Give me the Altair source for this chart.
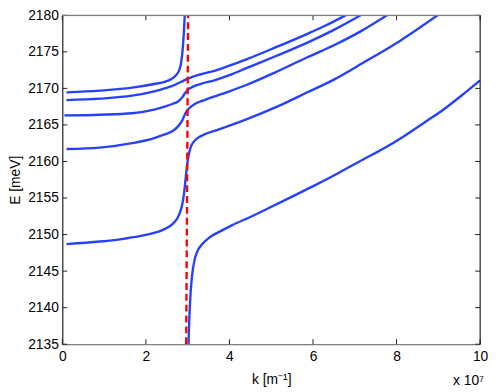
import altair as alt
import pandas as pd

# ---- data (k in units of 1e7 m^-1, E in meV) ----
k0 = [3.02, 3.04, 3.07, 3.11, 3.16, 3.24, 3.35, 3.52, 3.8, 4.07, 4.5, 4.93, 5.5, 6.03, 6.6, 7.21, 7.7, 8.16, 8.71, 9.1, 9.55, 10.0]
E0 = [2135.0, 2138.5, 2142.0, 2144.6, 2146.4, 2147.8, 2148.7, 2149.6, 2150.5, 2151.3, 2152.4, 2153.6, 2155.2, 2156.7, 2158.4, 2160.3, 2161.8, 2163.4, 2165.5, 2167.0, 2169.0, 2171.1]

k1 = [0.1, 0.9, 1.5, 2.0, 2.3, 2.5, 2.65, 2.75, 2.82, 2.87, 2.91, 2.94, 2.97, 3.0, 3.04, 3.09, 3.16, 3.26, 3.4, 3.7, 4.0, 4.42, 5.1, 5.88, 6.5, 7.2, 8.08, 8.98]
E1 = [2148.7, 2149.05, 2149.45, 2149.95, 2150.4, 2150.9, 2151.5, 2152.2, 2153.1, 2154.1, 2155.5, 2157.0, 2158.7, 2160.1, 2161.3, 2162.2, 2162.8, 2163.3, 2163.7, 2164.3, 2164.9, 2165.8, 2167.4, 2169.5, 2171.2, 2173.5, 2176.5, 2180.0]

k2 = [0.1, 0.9, 1.67, 2.2, 2.45, 2.65, 2.77, 2.87, 2.93, 2.99, 3.04, 3.15, 3.4, 3.8, 4.42, 5.1, 5.88, 6.5, 7.14, 7.77]
E2 = [2161.7, 2161.9, 2162.5, 2163.2, 2163.7, 2164.2, 2164.8, 2165.6, 2166.4, 2167.0, 2167.3, 2167.8, 2168.4, 2169.2, 2170.5, 2172.2, 2174.3, 2175.9, 2177.8, 2180.0]

k3 = [0.05, 0.9, 1.67, 2.2, 2.45, 2.65, 2.77, 2.86, 2.93, 3.0, 3.08, 3.3, 3.64, 4.0, 4.42, 5.1, 5.88, 6.5, 7.14]
E3 = [2166.3, 2166.4, 2166.6, 2167.1, 2167.5, 2167.9, 2168.2, 2168.7, 2169.3, 2169.8, 2170.1, 2170.6, 2171.1, 2171.8, 2172.8, 2174.4, 2176.3, 2178.0, 2180.0]

k4 = [0.1, 0.9, 1.67, 2.2, 2.45, 2.7, 2.85, 2.95, 3.08, 3.3, 3.64, 4.0, 4.42, 5.1, 5.88, 6.3, 6.78]
E4 = [2168.4, 2168.6, 2169.0, 2169.6, 2170.0, 2170.5, 2170.9, 2171.2, 2171.5, 2171.9, 2172.4, 2173.1, 2174.0, 2175.6, 2177.5, 2178.6, 2180.0]

k5 = [0.1, 0.9, 1.67, 2.2, 2.45, 2.61, 2.72, 2.79, 2.84, 2.88, 2.91, 2.93]
E5 = [2169.45, 2169.7, 2170.1, 2170.6, 2170.9, 2171.3, 2171.8, 2172.4, 2173.4, 2175.3, 2177.8, 2180.0]

k_photon = [2.965, 3.01]
E_photon = [2135.0, 2180.0]

x_ticks = [0, 2, 4, 6, 8, 10]
y_ticks = [2135, 2140, 2145, 2150, 2155, 2160, 2165, 2170, 2175, 2180]

# ---- tables ----
rows = []
for i, (ks, es) in enumerate([(k0, E0), (k1, E1), (k2, E2), (k3, E3), (k4, E4), (k5, E5)]):
    for j, (k, e) in enumerate(zip(ks, es)):
        rows.append({"k": k, "E": e, "branch": i, "order": j})
df_pol = pd.DataFrame(rows)
df_ph = pd.DataFrame({"k": k_photon, "E": E_photon})
df_xt = pd.DataFrame({"k": x_ticks})
df_yt = pd.DataFrame({"E": y_ticks})

W, H = 423, 333
FONT = "Liberation Sans"

xscale = alt.Scale(domain=[0, 10], nice=False, zero=False)
yscale = alt.Scale(domain=[2135, 2180], nice=False, zero=False)

blue = alt.Chart(df_pol).mark_line(
    color="#2541ff", strokeWidth=2.4, interpolate="monotone", clip=True
).encode(
    x=alt.X("k:Q", scale=xscale, axis=alt.Axis(
        values=x_ticks, format="d", title="k [m⁻¹]", ticks=False, labelFlush=False,
        labelOverlap=False, domainColor="#808080", domainWidth=1.2,
        labelPadding=5, titlePadding=10, labelFontSize=14, titleFontSize=14,
        labelFont=FONT, titleFont=FONT, labelColor="black", titleColor="black",
        titleFontWeight="normal", grid=False)),
    y=alt.Y("E:Q", scale=yscale, axis=alt.Axis(
        values=y_ticks, format="d", title="E [meV]", ticks=False, labelOverlap=False,
        domainColor="black", domainWidth=1, labelPadding=4, titlePadding=5,
        labelFontSize=14, titleFontSize=14, labelFont=FONT, titleFont=FONT,
        labelColor="black", titleColor="black", titleFontWeight="normal",
        grid=False)),
    detail="branch:N",
    order="order:Q",
)

red = alt.Chart(df_ph).mark_line(
    color="#ff0000", strokeWidth=2.4, strokeDash=[7, 4], clip=True
).encode(
    x=alt.X("k:Q", scale=xscale, axis=None),
    y=alt.Y("E:Q", scale=yscale, axis=None),
)

tick_col = "#222222"
xt_bot = alt.Chart(df_xt).mark_rule(color=tick_col, strokeWidth=1).encode(
    x=alt.X("k:Q", scale=xscale, axis=None), y=alt.value(H), y2=alt.value(H - 5))
xt_top = alt.Chart(df_xt).mark_rule(color=tick_col, strokeWidth=1).encode(
    x=alt.X("k:Q", scale=xscale, axis=None), y=alt.value(0), y2=alt.value(5))
yt_left = alt.Chart(df_yt).mark_rule(color=tick_col, strokeWidth=1).encode(
    y=alt.Y("E:Q", scale=yscale, axis=None), x=alt.value(0), x2=alt.value(5))
yt_right = alt.Chart(df_yt).mark_rule(color=tick_col, strokeWidth=1).encode(
    y=alt.Y("E:Q", scale=yscale, axis=None), x=alt.value(W - 5), x2=alt.value(W))

frame_top = alt.Chart(df_ph.head(1)).mark_rule(color="#808080", strokeWidth=1.2).encode(
    x=alt.value(0), x2=alt.value(W), y=alt.value(0))
frame_right = alt.Chart(df_ph.head(1)).mark_rule(color="black", strokeWidth=1).encode(
    x=alt.value(W), y=alt.value(0), y2=alt.value(H))

exp_text = alt.Chart(pd.DataFrame({"t": ["x 10⁷"]})).mark_text(
    align="right", baseline="alphabetic", font=FONT, fontSize=14, color="black"
).encode(x=alt.value(W + 4), y=alt.value(H + 41), text="t:N")

chart = alt.layer(
    blue, red, xt_bot, xt_top, yt_left, yt_right, frame_top, frame_right, exp_text
).resolve_axis(x="independent", y="independent").properties(
    width=W, height=H,
    autosize=alt.AutoSizeParams(type="none"),
    padding={"left": 55, "top": 5, "right": 10, "bottom": 46},
).configure_view(stroke=None).configure(background="white")

chart.save("out.html", embed_options={"renderer": "svg", "actions": False})
